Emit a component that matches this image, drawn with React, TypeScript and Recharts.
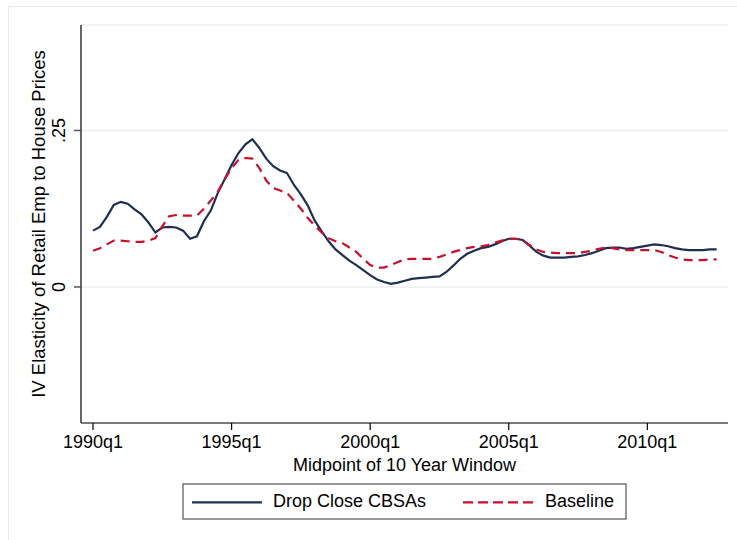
import React from "react";
import { LineChart, Line, XAxis, YAxis, CartesianGrid, Label } from "recharts";

// Quarterly series, index 0 = 1990q1
const dropClose = [
  0.090, 0.096, 0.112, 0.131, 0.136, 0.133, 0.124, 0.116, 0.103, 0.087,
  0.095, 0.096, 0.095, 0.090, 0.077, 0.081, 0.105, 0.122, 0.150, 0.172,
  0.195, 0.214, 0.228, 0.236, 0.222, 0.205, 0.193, 0.186, 0.182, 0.163,
  0.148, 0.130, 0.106, 0.089, 0.073, 0.060, 0.051, 0.042, 0.035, 0.027,
  0.019, 0.012, 0.008, 0.005, 0.007, 0.010, 0.013, 0.014, 0.015, 0.016,
  0.017, 0.024, 0.034, 0.045, 0.053, 0.058, 0.062, 0.064, 0.068, 0.073,
  0.077, 0.077, 0.075, 0.066, 0.056, 0.050, 0.047, 0.047, 0.047, 0.048,
  0.049, 0.051, 0.054, 0.058, 0.062, 0.063, 0.063, 0.061, 0.062, 0.064,
  0.066, 0.068, 0.067, 0.065, 0.062, 0.060, 0.059, 0.059, 0.059, 0.060,
  0.060,
];

const baseline = [
  0.058, 0.062, 0.068, 0.074, 0.074, 0.073, 0.072, 0.072, 0.074, 0.078,
  0.097, 0.113, 0.115, 0.114, 0.114, 0.114, 0.125, 0.138, 0.152, 0.172,
  0.190, 0.203, 0.206, 0.205, 0.190, 0.170, 0.158, 0.154, 0.150, 0.138,
  0.125, 0.110, 0.098, 0.087, 0.078, 0.073, 0.070, 0.063, 0.056, 0.045,
  0.035, 0.031, 0.031, 0.035, 0.040, 0.044, 0.045, 0.045, 0.045, 0.045,
  0.048, 0.052, 0.056, 0.059, 0.062, 0.064, 0.065, 0.067, 0.071, 0.074,
  0.077, 0.077, 0.075, 0.067, 0.060, 0.056, 0.055, 0.054, 0.054, 0.054,
  0.054, 0.056, 0.058, 0.061, 0.063, 0.062, 0.060, 0.059, 0.059, 0.059,
  0.059, 0.059, 0.056, 0.051, 0.047, 0.044, 0.043, 0.043, 0.043, 0.044,
  0.044,
];

const xTickIndex = [0, 20, 40, 60, 80];
const xTickLabels = ["1990q1", "1995q1", "2000q1", "2005q1", "2010q1"];
const yTickValues = [0, 0.25];
const yTickLabels = ["0", ".25"];
const seriesNames = ["Drop Close CBSAs", "Baseline"];

const data = dropClose.map((v, i) => ({ t: i, drop: v, base: baseline[i] }));

const FONT = '"Liberation Sans", Arial, Helvetica, sans-serif';
const NAVY = "#1f2e52";
const RED = "#c8102e";

const XTick = (props: any) => {
  const { x, y, payload } = props;
  const idx = xTickIndex.indexOf(payload.value);
  return (
    <text x={x} y={y + 16} textAnchor="middle" fontSize={18} fontFamily={FONT} fill="#000">
      {idx >= 0 ? xTickLabels[idx] : ""}
    </text>
  );
};

const YTick = (props: any) => {
  const { x, y, payload } = props;
  const idx = yTickValues.indexOf(payload.value);
  const px = x - 7;
  return (
    <text
      x={px}
      y={y}
      transform={`rotate(-90, ${px}, ${y})`}
      textAnchor="middle"
      fontSize={18}
      fontFamily={FONT}
      fill="#000"
    >
      {idx >= 0 ? yTickLabels[idx] : ""}
    </text>
  );
};

export default function App() {
  return (
    <div
      style={{
        position: "absolute",
        left: 0,
        top: 0,
        width: 737,
        height: 540,
        background: "#fff",
        overflow: "hidden",
        fontFamily: FONT,
      }}
    >
      <div
        style={{
          position: "absolute",
          left: 8,
          top: 6,
          width: 760,
          height: 560,
          borderTop: "1px solid #e3ebee",
          borderLeft: "1px solid #e3ebee",
        }}
      />
      <div style={{ position: "absolute", left: 0, top: 0 }}>
        <LineChart
          width={737}
          height={540}
          data={data}
          margin={{ top: 25, right: 9, bottom: 0, left: 0 }}
        >
          <CartesianGrid vertical={false} stroke="#e8eef1" strokeWidth={1.5} />
          <XAxis
            dataKey="t"
            type="number"
            domain={[-1.732, 91.64]}
            allowDataOverflow
            ticks={xTickIndex}
            interval={0}
            height={117}
            tickSize={7}
            axisLine={{ stroke: "#000", strokeWidth: 1.2 }}
            tickLine={{ stroke: "#000", strokeWidth: 1.2 }}
            tick={XTick}
          >
            <Label
              content={() => (
                <text x={404.5} y={471} textAnchor="middle" fontSize={18} fontFamily={FONT} fill="#000">
                  Midpoint of 10 Year Window
                </text>
              )}
            />
          </XAxis>
          <YAxis
            type="number"
            domain={[-0.2173, 0.4185]}
            allowDataOverflow
            ticks={yTickValues}
            interval={0}
            width={81}
            tickSize={7}
            axisLine={{ stroke: "#000", strokeWidth: 1.2 }}
            tickLine={{ stroke: "#555", strokeWidth: 1.5 }}
            tick={YTick}
          >
            <Label
              content={() => (
                <text
                  x={45}
                  y={224}
                  transform="rotate(-90, 45, 224)"
                  textAnchor="middle"
                  fontSize={18.5}
                  fontFamily={FONT}
                  fill="#000"
                >
                  IV Elasticity of Retail Emp to House Prices
                </text>
              )}
            />
          </YAxis>
          <Line
            type="linear"
            dataKey="drop"
            name={seriesNames[0]}
            stroke={NAVY}
            strokeWidth={2.2}
            dot={false}
            isAnimationActive={false}
          />
          <Line
            type="linear"
            dataKey="base"
            name={seriesNames[1]}
            stroke={RED}
            strokeWidth={2.2}
            strokeDasharray="9 6"
            dot={false}
            isAnimationActive={false}
          />
        </LineChart>
      </div>
      <svg
        width={445}
        height={37}
        style={{ position: "absolute", left: 182, top: 483 }}
      >
        <rect x={1} y={1} width={443} height={35} fill="#fff" stroke="#333" strokeWidth={1} />
        <line x1={10} x2={80} y1={19.3} y2={19.3} stroke={NAVY} strokeWidth={2.2} />
        <text x={91} y={24.3} fontSize={18} fontFamily={FONT} fill="#000">
          {seriesNames[0]}
        </text>
        <line x1={281} x2={351} y1={19.3} y2={19.3} stroke={RED} strokeWidth={2.2} strokeDasharray="10 5" />
        <text x={363} y={24.3} fontSize={18} fontFamily={FONT} fill="#000">
          {seriesNames[1]}
        </text>
      </svg>
    </div>
  );
}
